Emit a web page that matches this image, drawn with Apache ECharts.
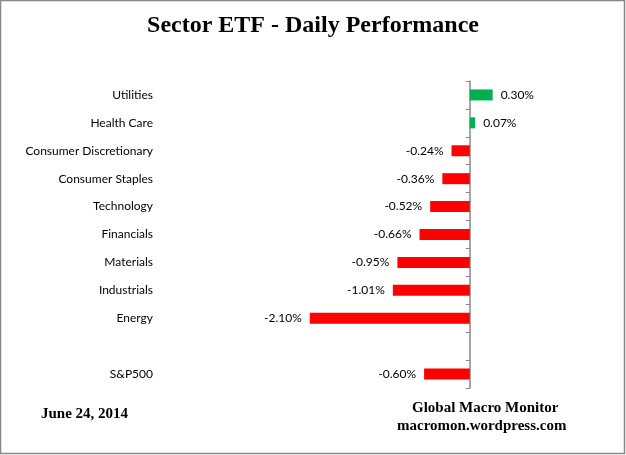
<!DOCTYPE html>
<html>
<head>
<meta charset="utf-8">
<script src="https://cdn.jsdelivr.net/npm/echarts@6/dist/echarts.min.js"></script>
<style>
html, body { margin: 0; padding: 0; background: #fff; }
#chart { width: 626px; height: 455px; }
</style>
</head>
<body>
<div id="chart"></div>
<script>
var sectors = ['Utilities', 'Health Care', 'Consumer Discretionary', 'Consumer Staples', 'Technology',
               'Financials', 'Materials', 'Industrials', 'Energy', '', 'S&P500'];
var changes = [0.30, 0.07, -0.24, -0.36, -0.52, -0.66, -0.95, -1.01, -2.10, null, -0.60];

var chart = echarts.init(document.getElementById('chart'));

var barData = changes.map(function(v){
    if (v === null) return '-';
    return {
        value: v,
        itemStyle: { color: v >= 0 ? '#00B050' : '#FF0000' },
        label: { position: v >= 0 ? 'right' : 'left' }
    };
});

var option = {
    backgroundColor: '#fff',
    animation: false,
    title: {
        text: 'Sector ETF - Daily Performance',
        left: 'center',
        top: 9,
        textStyle: { fontFamily: 'Liberation Serif', fontWeight: 'bold', fontSize: 24, color: '#000' }
    },
    graphic: [
        { type: 'rect', shape: { x: 0.5, y: 0.5, width: 624, height: 453 },
          style: { fill: 'none', stroke: '#888', lineWidth: 1.5 } },
        { type: 'text', left: 41, top: 407,
          style: { text: 'June 24, 2014', font: 'bold 15px "Liberation Serif"', fill: '#000' } },
        { type: 'text', left: 412, top: 401,
          style: { text: 'Global Macro Monitor', font: 'bold 15px "Liberation Serif"', fill: '#000' } },
        { type: 'text', left: 397, top: 419,
          style: { text: 'macromon.wordpress.com', font: 'bold 15px "Liberation Serif"', fill: '#000' } }
    ],
    grid: { left: 165, width: 381, top: 81, height: 307 },
    xAxis: {
        type: 'value',
        min: -4,
        max: 1,
        show: false
    },
    yAxis: [
        {
            type: 'category',
            data: sectors,
            inverse: true,
            axisLine: { onZero: true, lineStyle: { color: '#888', width: 1.5 } },
            axisTick: { show: true, length: 4, lineStyle: { color: '#888' } },
            axisLabel: { show: false }
        },
        {
            type: 'category',
            data: sectors,
            inverse: true,
            position: 'left',
            axisLine: { show: false, onZero: false },
            axisTick: { show: false },
            axisLabel: { margin: 12, fontFamily: 'Lato', fontSize: 12, color: '#000' }
        }
    ],
    series: [{
        type: 'bar',
        yAxisIndex: 0,
        barWidth: 11,
        data: barData,
        label: {
            show: true,
            distance: 8,
            fontFamily: 'Lato',
            fontSize: 12,
            color: '#000',
            formatter: function(p){ return p.value.toFixed(2) + '%'; }
        }
    }]
};

chart.setOption(option);
</script>
</body>
</html>
